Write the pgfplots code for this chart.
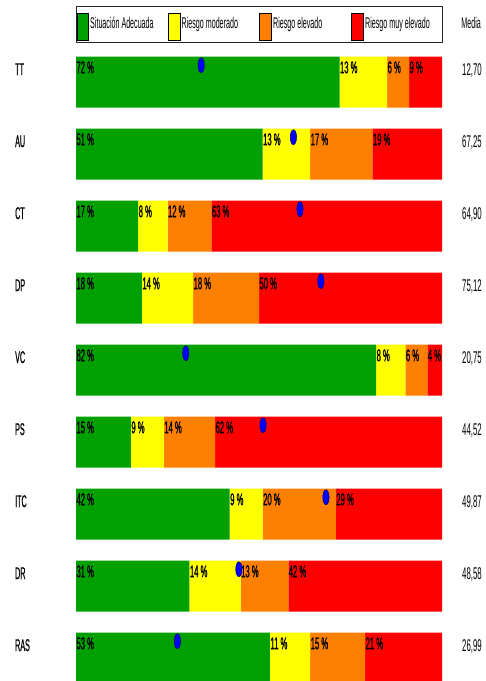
\documentclass[border=0pt]{standalone}
\usepackage{fontspec}
\setmainfont{Liberation Sans}[FakeStretch=0.46]
\newfontfamily\pctfam{Liberation Sans}[FakeStretch=0.45, FakeBold=1]
\newfontfamily\namefam{Liberation Sans}[FakeStretch=0.42, FakeBold=0.6]
\usepackage{pgfplots}
\usepackage{pgfplotstable}
\pgfplotsset{compat=1.18}
\definecolor{cgreen}{RGB}{0,160,0}
\definecolor{cyellow}{RGB}{255,255,0}
\definecolor{corange}{RGB}{255,128,0}
\definecolor{cred}{RGB}{255,0,0}
\definecolor{cblue}{RGB}{0,0,255}
\definecolor{cnavy}{RGB}{0,0,110}
\newcommand{\txt}{\fontsize{15.5}{17}\selectfont}
\newcommand{\mtxt}{\fontsize{17}{18}\selectfont}
\newcommand{\pct}{\pctfam\fontsize{17}{18}\selectfont}
\newcommand{\nm}{\namefam\fontsize{17}{18}\selectfont}

% rows: 0 = TT (top) ... 8 = RAS (bottom)
\pgfplotstableread{
row g y o r dot name media
0 72 13 6 9 34.2 TT 12,70
1 51 13 17 19 59.4 AU 67,25
2 17 8 12 63 61.2 CT 64,90
3 18 14 18 50 66.9 DP 75,12
4 82 8 6 4 30.0 VC 20,75
5 15 9 14 62 51.1 PS 44,52
6 42 9 20 29 68.3 ITC 49,87
7 31 14 13 42 44.5 DR 48,58
8 53 11 15 21 27.7 RAS 26,99
}\data

% percent labels at the start of each segment
\pgfplotstableread{
x y t
0 0 72
72 0 13
85 0 6
91 0 9
0 1 51
51 1 13
64 1 17
81 1 19
0 2 17
17 2 8
25 2 12
37 2 63
0 3 18
18 3 14
32 3 18
50 3 50
0 4 82
82 4 8
90 4 6
96 4 4
0 5 15
15 5 9
24 5 14
38 5 62
0 6 42
42 6 9
51 6 20
71 6 29
0 7 31
31 7 14
45 7 13
58 7 42
0 8 53
53 8 11
64 8 15
79 8 21
}\labels

\pgfplotsset{base/.style={at={(0pt,0pt)}, anchor=north west, scale only axis,
  width=486pt, height=681pt, xmin=-20.765, xmax=112.022,
  ymin=-1.1417, ymax=8.3167, y dir=reverse, hide axis}}

\begin{document}
\begin{tikzpicture}
\begin{axis}[base, xbar stacked, bar width=51pt]
\addplot[fill=cgreen, draw=none] table[x=g, y=row]{\data};
\addplot[fill=cyellow, draw=none] table[x=y, y=row]{\data};
\addplot[fill=corange, draw=none] table[x=o, y=row]{\data};
\addplot[fill=cred, draw=none] table[x=r, y=row]{\data};
\end{axis}
\begin{axis}[base, clip=false]
% percent labels
\addplot[only marks, mark=none, point meta=explicit symbolic,
  nodes near coords={\pgfplotspointmeta~\%},
  nodes near coords style={anchor=base west, inner sep=0pt, xshift=0.3pt, font=\pct, text=black}]
  table[x=x, y expr=\thisrow{y}-0.125, meta=t]{\labels};
% blue dots
\addplot[only marks, mark=*, mark size=7.5pt, mark options={xscale=0.42, fill=cblue, draw=cnavy, line width=0.5pt}]
  table[x=dot, y expr=\thisrow{row}-0.236]{\data};
% row names
\addplot[only marks, mark=none, point meta=explicit symbolic,
  nodes near coords={\pgfplotspointmeta},
  nodes near coords style={anchor=base west, inner sep=0pt, font=\nm, text=black}]
  table[x expr=-16.67, y expr=\thisrow{row}-0.10, meta=name]{\data};
% media values
\addplot[only marks, mark=none, point meta=explicit symbolic,
  nodes near coords={\pgfplotspointmeta},
  nodes near coords style={anchor=base east, inner sep=0pt, font=\mtxt, text=black}]
  table[x expr=110.93, y expr=\thisrow{row}-0.10, meta=media]{\data};
\end{axis}
% legend and header (pixel coordinates, origin top-left)
\begin{scope}[x=1pt, y=-1pt]
\draw[line width=0.9pt, black!85] (76.5,6.5) rectangle (442.5,42.5);
\draw[fill=cgreen, line width=0.6pt] (77.2,13) rectangle (88.3,40);
\draw[fill=cyellow, line width=0.6pt] (168.2,13) rectangle (179.8,40);
\draw[fill=corange, line width=0.6pt] (259.5,13) rectangle (271.3,40);
\draw[fill=cred, line width=0.6pt] (351.5,13) rectangle (363.2,40);
\node[anchor=base west, inner sep=0pt, font=\txt] at (90,28.5) {Situación Adecuada};
\node[anchor=base west, inner sep=0pt, font=\txt] at (181.5,28.5) {Riesgo moderado};
\node[anchor=base west, inner sep=0pt, font=\txt] at (273,28.5) {Riesgo elevado};
\node[anchor=base west, inner sep=0pt, font=\txt] at (365,28.5) {Riesgo muy elevado};
\node[anchor=base east, inner sep=0pt, font=\txt] at (481,28.5) {Media};
\end{scope}
\pgfresetboundingbox
\path (0pt,0pt) rectangle (486pt,-681pt);
\end{tikzpicture}
\end{document}
